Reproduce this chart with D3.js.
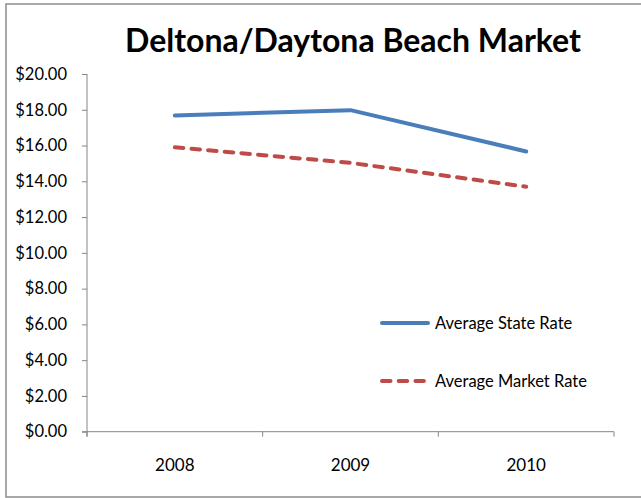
<!DOCTYPE html>
<html>
<head>
<meta charset="utf-8">
<script src="https://cdn.jsdelivr.net/npm/d3@7/dist/d3.min.js"></script>
<style>
  body { margin: 0; background: #fff; }
  text { font-family: Lato, "Open Sans", sans-serif; fill: #000; }
</style>
</head>
<body>
<div id="chart"></div>
<script>
var title = "Deltona/Daytona Beach Market";
var years = ["2008", "2009", "2010"];
var stateRate = [17.68, 17.98, 15.67];
var marketRate = [15.90, 15.03, 13.70];
var yTicks = [0, 2, 4, 6, 8, 10, 12, 14, 16, 18, 20];
var seriesNames = ["Average State Rate", "Average Market Rate"];

var width = 641, height = 498;
var margin = { left: 87, right: 27, top: 74, bottom: 66 };

var svg = d3.select("#chart")
    .append("svg")
    .attr("width", width)
    .attr("height", height);

// outer chart border (right side runs off the picture)
svg.append("path")
    .attr("d", "M650,4 H6 V497 H650")
    .attr("fill", "none")
    .attr("stroke", "#8c8c8c")
    .attr("stroke-width", 1.5);

// title
svg.append("text")
    .attr("x", 353)
    .attr("y", 52)
    .attr("text-anchor", "middle")
    .style("font-weight", "bold")
    .style("font-size", "32px")
    .text(title);

var x = d3.scaleBand()
    .domain(years)
    .range([margin.left, width - margin.right]);

var y = d3.scaleLinear()
    .domain([0, 20])
    .range([height - margin.bottom - 0.3, margin.top]);

// y axis
var yAxis = svg.append("g")
    .attr("transform", "translate(" + margin.left + ",0)")
    .call(d3.axisLeft(y).tickValues(yTicks).tickSize(5).tickPadding(15)
        .tickFormat(function (d) { return "$" + d3.format(".2f")(d); }));
yAxis.select(".domain").attr("d", "M0," + y(20) + "V" + (y(0) + 5));

// x axis with ticks at band edges
var xAxis = svg.append("g")
    .attr("transform", "translate(0," + y(0) + ")");
xAxis.append("line")
    .attr("x1", margin.left - 5).attr("x2", width - margin.right)
    .attr("stroke", "#868686");
var edges = years.map(function (d) { return x(d); }).concat([x(years[years.length - 1]) + x.bandwidth()]);
xAxis.selectAll(".edge")
    .data(edges).enter()
    .append("line")
    .attr("class", "edge")
    .attr("x1", function (d) { return d; })
    .attr("x2", function (d) { return d; })
    .attr("y2", 5)
    .attr("stroke", "#868686");
xAxis.selectAll(".lab")
    .data(years).enter()
    .append("text")
    .attr("class", "lab")
    .attr("x", function (d) { return x(d) + x.bandwidth() / 2; })
    .attr("y", 39)
    .attr("text-anchor", "middle")
    .style("font-size", "17px")
    .text(function (d) { return d; });

yAxis.selectAll("line").attr("stroke", "#868686");
yAxis.select(".domain").attr("stroke", "#868686");
yAxis.selectAll("text")
    .style("font-size", "16.5px")
    .style("font-family", "Lato, sans-serif");

var line = d3.line()
    .x(function (d, i) { return x(years[i]) + x.bandwidth() / 2; })
    .y(function (d) { return y(d); });

svg.append("path")
    .datum(stateRate)
    .attr("d", line)
    .attr("fill", "none")
    .attr("stroke", "#4a7ebb")
    .attr("stroke-width", 4)
    .attr("stroke-linecap", "round")
    .attr("stroke-linejoin", "round");

svg.append("path")
    .datum(marketRate)
    .attr("d", line)
    .attr("fill", "none")
    .attr("stroke", "#be4b48")
    .attr("stroke-width", 4)
    .attr("stroke-linecap", "round")
    .attr("stroke-dasharray", "8.5,8.2");

// legend
var legend = svg.append("g");
var legendRows = [
    { name: seriesNames[0], color: "#4a7ebb", dash: null, y: 323 },
    { name: seriesNames[1], color: "#be4b48", dash: "8.5,8.2", y: 381 }
];
legendRows.forEach(function (r) {
    legend.append("line")
        .attr("x1", 382).attr("x2", 428)
        .attr("y1", r.y).attr("y2", r.y)
        .attr("stroke", r.color)
        .attr("stroke-width", 4)
        .attr("stroke-linecap", "round")
        .attr("stroke-dasharray", r.dash);
    legend.append("text")
        .attr("x", 435)
        .attr("y", r.y)
        .attr("dy", "0.35em")
        .style("font-size", "16.5px")
        .text(r.name);
});
</script>
</body>
</html>
